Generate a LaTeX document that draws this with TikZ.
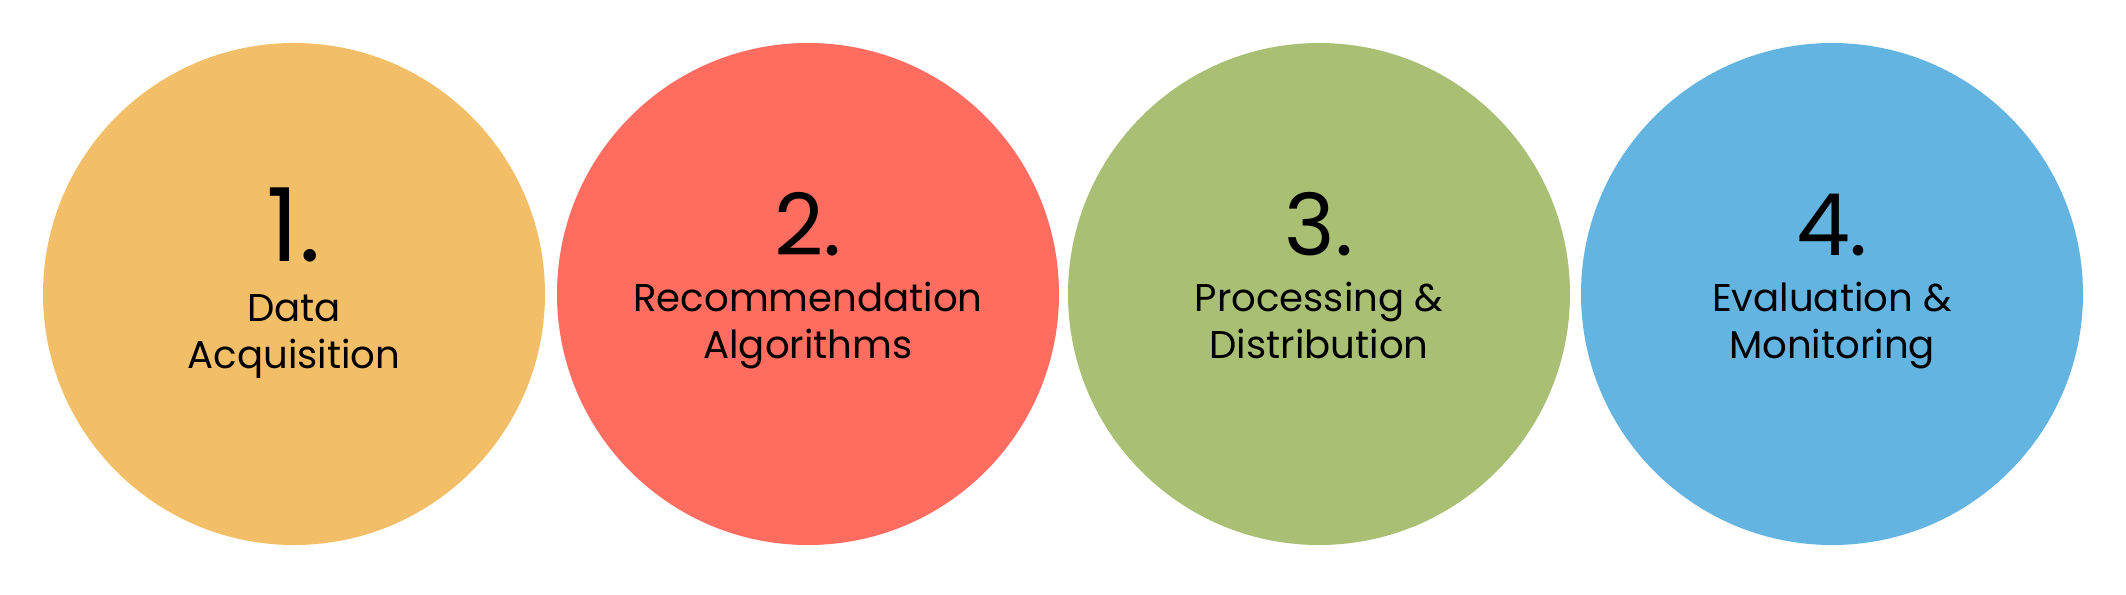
\documentclass[tikz,border=0pt]{standalone}
\usepackage{fontspec}
\setmainfont{Poppins}
\usepackage{tikz}

\definecolor{stepyellow}{HTML}{F2BE67}
\definecolor{stepred}{HTML}{FF6C60}
\definecolor{stepgreen}{HTML}{A8BF74}
\definecolor{stepblue}{HTML}{63B4E1}

\tikzset{
  stage/.style={circle,minimum size=5.02cm,inner sep=0pt},
  stagenum/.style={anchor=base,inner sep=0pt,font=\fontsize{24.4}{26}\selectfont},
  stagelabel/.style={anchor=base,inner sep=0pt,align=center,font=\fontsize{11}{13.1}\selectfont}
}

\begin{document}
\begin{tikzpicture}[scale=1.0]
    \useasboundingbox (0,0) rectangle (21.26,5.94);

    % Stage 1: data acquisition
    \node[stage,fill=stepyellow] (acq) at (2.94,3.00) {};
    \node[stagenum,font=\fontsize{29}{31}\selectfont] (acqnum) at (2.94,3.33) {1.};
    \node[stagelabel] (acqtxt) at (2.94,2.26) {Data\\Acquisition};

    % Stage 2: recommendation algorithms
    \node[stage,fill=stepred] (rec) at (8.08,3.00) {};
    \node[stagenum] (recnum) at (8.08,3.39) {2.};
    \node[stagelabel] (rectxt) at (8.08,2.36) {Recommendation\\Algorithms};

    % Stage 3: processing and distribution
    \node[stage,fill=stepgreen] (proc) at (13.19,3.00) {};
    \node[stagenum] (procnum) at (13.19,3.39) {3.};
    \node[stagelabel] (proctxt) at (13.19,2.36) {Processing \&\\Distribution};

    % Stage 4: evaluation and monitoring
    \node[stage,fill=stepblue] (eval) at (18.32,3.00) {};
    \node[stagenum] (evalnum) at (18.32,3.39) {4.};
    \node[stagelabel] (evaltxt) at (18.32,2.36) {Evaluation \&\\Monitoring};
\end{tikzpicture}
\end{document}
